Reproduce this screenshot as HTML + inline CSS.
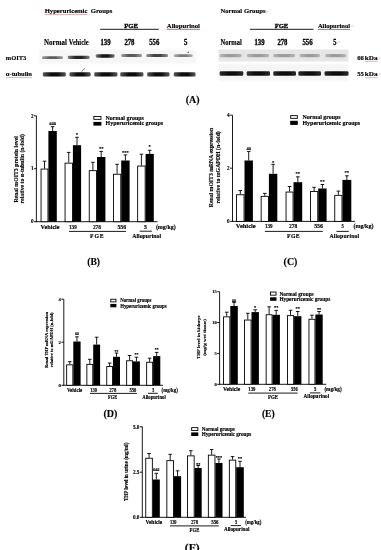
<!DOCTYPE html>
<html><head><meta charset="utf-8"><style>
html,body{margin:0;padding:0;background:#fff;}
body{width:381px;height:550px;overflow:hidden;}
svg{display:block;filter:blur(0.35px);}
text{font-family:"Liberation Serif", serif;stroke:#000;stroke-width:0.14px;}
</style></head><body>
<svg width="381" height="550" viewBox="0 0 381 550">
<defs>
<filter id="bl" x="-20%" y="-100%" width="140%" height="300%"><feGaussianBlur stdDeviation="0.55"/></filter>
<filter id="bl1" x="-10%" y="-30%" width="120%" height="160%"><feGaussianBlur stdDeviation="0.6"/></filter>
<filter id="bl2" x="-10%" y="-30%" width="120%" height="160%"><feGaussianBlur stdDeviation="1.2"/></filter>
</defs>
<rect width="381" height="550" fill="#fff"/>
<line x1="36.40" y1="115.80" x2="36.40" y2="222.15" stroke="#000" stroke-width="0.9"/>
<line x1="34.00" y1="115.80" x2="36.40" y2="115.80" stroke="#000" stroke-width="0.9"/>
<text x="33.50" y="117.57" font-size="5.2" text-anchor="end" font-weight="bold" fill="#000">2</text>
<line x1="34.00" y1="168.70" x2="36.40" y2="168.70" stroke="#000" stroke-width="0.9"/>
<text x="33.50" y="170.47" font-size="5.2" text-anchor="end" font-weight="bold" fill="#000">1</text>
<line x1="34.00" y1="221.70" x2="36.40" y2="221.70" stroke="#000" stroke-width="0.9"/>
<text x="33.50" y="223.47" font-size="5.2" text-anchor="end" font-weight="bold" fill="#000">0</text>
<line x1="35.95" y1="221.70" x2="157.60" y2="221.70" stroke="#000" stroke-width="0.9"/>
<line x1="44.50" y1="168.60" x2="44.50" y2="161.20" stroke="#000" stroke-width="0.9"/>
<line x1="42.70" y1="161.20" x2="46.30" y2="161.20" stroke="#000" stroke-width="0.9"/>
<line x1="52.60" y1="131.00" x2="52.60" y2="126.70" stroke="#000" stroke-width="0.9"/>
<line x1="50.80" y1="126.70" x2="54.40" y2="126.70" stroke="#000" stroke-width="0.9"/>
<rect x="41.05" y="169.05" width="6.90" height="52.65" fill="#fff" stroke="#000" stroke-width="0.9"/>
<rect x="48.40" y="131.00" width="8.40" height="90.70" fill="#000"/>
<text x="52.60" y="124.60" font-size="4.6" text-anchor="middle" font-weight="bold" fill="#000">###</text>
<line x1="68.75" y1="162.70" x2="68.75" y2="152.40" stroke="#000" stroke-width="0.9"/>
<line x1="66.95" y1="152.40" x2="70.55" y2="152.40" stroke="#000" stroke-width="0.9"/>
<line x1="77.00" y1="145.20" x2="77.00" y2="137.30" stroke="#000" stroke-width="0.9"/>
<line x1="75.20" y1="137.30" x2="78.80" y2="137.30" stroke="#000" stroke-width="0.9"/>
<rect x="65.05" y="163.15" width="7.40" height="58.55" fill="#fff" stroke="#000" stroke-width="0.9"/>
<rect x="72.90" y="145.20" width="8.20" height="76.50" fill="#000"/>
<text x="77.00" y="135.70" font-size="4.6" text-anchor="middle" font-weight="bold" fill="#000">*</text>
<line x1="92.90" y1="170.20" x2="92.90" y2="162.30" stroke="#000" stroke-width="0.9"/>
<line x1="91.10" y1="162.30" x2="94.70" y2="162.30" stroke="#000" stroke-width="0.9"/>
<line x1="101.20" y1="157.00" x2="101.20" y2="151.40" stroke="#000" stroke-width="0.9"/>
<line x1="99.40" y1="151.40" x2="103.00" y2="151.40" stroke="#000" stroke-width="0.9"/>
<rect x="89.25" y="170.65" width="7.30" height="51.05" fill="#fff" stroke="#000" stroke-width="0.9"/>
<rect x="97.00" y="157.00" width="8.40" height="64.70" fill="#000"/>
<text x="101.20" y="149.80" font-size="4.6" text-anchor="middle" font-weight="bold" fill="#000">**</text>
<line x1="117.10" y1="173.80" x2="117.10" y2="164.30" stroke="#000" stroke-width="0.9"/>
<line x1="115.30" y1="164.30" x2="118.90" y2="164.30" stroke="#000" stroke-width="0.9"/>
<line x1="125.40" y1="160.50" x2="125.40" y2="154.90" stroke="#000" stroke-width="0.9"/>
<line x1="123.60" y1="154.90" x2="127.20" y2="154.90" stroke="#000" stroke-width="0.9"/>
<rect x="113.45" y="174.25" width="7.30" height="47.45" fill="#fff" stroke="#000" stroke-width="0.9"/>
<rect x="121.20" y="160.50" width="8.40" height="61.20" fill="#000"/>
<text x="125.40" y="154.10" font-size="4.6" text-anchor="middle" font-weight="bold" fill="#000">***</text>
<line x1="141.40" y1="165.60" x2="141.40" y2="154.20" stroke="#000" stroke-width="0.9"/>
<line x1="139.60" y1="154.20" x2="143.20" y2="154.20" stroke="#000" stroke-width="0.9"/>
<line x1="149.70" y1="153.90" x2="149.70" y2="150.30" stroke="#000" stroke-width="0.9"/>
<line x1="147.90" y1="150.30" x2="151.50" y2="150.30" stroke="#000" stroke-width="0.9"/>
<rect x="137.65" y="166.05" width="7.50" height="55.65" fill="#fff" stroke="#000" stroke-width="0.9"/>
<rect x="145.60" y="153.90" width="8.20" height="67.80" fill="#000"/>
<text x="149.70" y="147.80" font-size="4.6" text-anchor="middle" font-weight="bold" fill="#000">*</text>
<text x="40.60" y="228.60" font-size="5.8" text-anchor="start" font-weight="bold" fill="#000" textLength="19.00" lengthAdjust="spacingAndGlyphs">Vehicle</text>
<text x="69.00" y="228.60" font-size="5.8" text-anchor="start" font-weight="bold" fill="#000" textLength="7.70" lengthAdjust="spacingAndGlyphs">139</text>
<text x="92.90" y="228.60" font-size="5.8" text-anchor="start" font-weight="bold" fill="#000" textLength="8.10" lengthAdjust="spacingAndGlyphs">278</text>
<text x="117.50" y="228.60" font-size="5.8" text-anchor="start" font-weight="bold" fill="#000" textLength="8.60" lengthAdjust="spacingAndGlyphs">556</text>
<text x="144.10" y="228.60" font-size="5.8" text-anchor="start" font-weight="bold" fill="#000" textLength="2.90" lengthAdjust="spacingAndGlyphs">5</text>
<text x="155.90" y="228.60" font-size="5.8" text-anchor="start" font-weight="bold" fill="#000" textLength="19.80" lengthAdjust="spacingAndGlyphs">(mg/kg)</text>
<line x1="69.00" y1="231.40" x2="126.10" y2="231.40" stroke="#000" stroke-width="0.9"/>
<text x="90.00" y="238.00" font-size="5.8" text-anchor="start" font-weight="bold" fill="#000" textLength="13.70" lengthAdjust="spacing">FGE</text>
<line x1="139.70" y1="231.20" x2="151.90" y2="231.20" stroke="#000" stroke-width="0.9"/>
<text x="132.30" y="238.00" font-size="5.8" text-anchor="start" font-weight="bold" fill="#000" textLength="28.70" lengthAdjust="spacingAndGlyphs">Allopurinol</text>
<rect x="93.85" y="116.45" width="7.10" height="2.90" fill="#fff" stroke="#000" stroke-width="0.9"/>
<rect x="93.40" y="121.90" width="8.00" height="3.70" fill="#000"/>
<text x="105.60" y="119.60" font-size="5.9" text-anchor="start" font-weight="bold" fill="#000" textLength="38.20" lengthAdjust="spacingAndGlyphs">Normal groups</text>
<text x="105.60" y="125.40" font-size="5.9" text-anchor="start" font-weight="bold" fill="#000" textLength="57.50" lengthAdjust="spacingAndGlyphs">Hyperuricemic groups</text>
<text transform="translate(17.58,169.40) rotate(-90)" x="0" y="0" font-size="5.7" text-anchor="middle" font-weight="bold" textLength="66.40" lengthAdjust="spacingAndGlyphs">Renal mOIT3 protein level</text>
<text transform="translate(24.08,168.70) rotate(-90)" x="0" y="0" font-size="5.7" text-anchor="middle" font-weight="bold" textLength="69.40" lengthAdjust="spacingAndGlyphs">relative to α-tubulin (n-fold)</text>
<text x="87.20" y="264.60" font-size="9.6" text-anchor="start" font-weight="bold" fill="#000" textLength="12.80" lengthAdjust="spacingAndGlyphs">(B)</text>
<line x1="232.50" y1="115.20" x2="232.50" y2="221.85" stroke="#000" stroke-width="0.9"/>
<line x1="230.10" y1="115.20" x2="232.50" y2="115.20" stroke="#000" stroke-width="0.9"/>
<text x="229.60" y="116.97" font-size="5.2" text-anchor="end" font-weight="bold" fill="#000">4</text>
<line x1="230.10" y1="168.20" x2="232.50" y2="168.20" stroke="#000" stroke-width="0.9"/>
<text x="229.60" y="169.97" font-size="5.2" text-anchor="end" font-weight="bold" fill="#000">2</text>
<line x1="230.10" y1="221.40" x2="232.50" y2="221.40" stroke="#000" stroke-width="0.9"/>
<text x="229.60" y="223.17" font-size="5.2" text-anchor="end" font-weight="bold" fill="#000">0</text>
<line x1="232.05" y1="221.40" x2="355.10" y2="221.40" stroke="#000" stroke-width="0.9"/>
<line x1="240.30" y1="194.30" x2="240.30" y2="190.50" stroke="#000" stroke-width="0.9"/>
<line x1="238.50" y1="190.50" x2="242.10" y2="190.50" stroke="#000" stroke-width="0.9"/>
<line x1="248.70" y1="160.50" x2="248.70" y2="151.40" stroke="#000" stroke-width="0.9"/>
<line x1="246.90" y1="151.40" x2="250.50" y2="151.40" stroke="#000" stroke-width="0.9"/>
<rect x="236.55" y="194.75" width="7.50" height="26.65" fill="#fff" stroke="#000" stroke-width="0.9"/>
<rect x="244.50" y="160.50" width="8.40" height="60.90" fill="#000"/>
<text x="248.70" y="149.80" font-size="4.6" text-anchor="middle" font-weight="bold" fill="#000">##</text>
<line x1="264.80" y1="195.90" x2="264.80" y2="193.40" stroke="#000" stroke-width="0.9"/>
<line x1="263.00" y1="193.40" x2="266.60" y2="193.40" stroke="#000" stroke-width="0.9"/>
<line x1="273.10" y1="173.80" x2="273.10" y2="164.30" stroke="#000" stroke-width="0.9"/>
<line x1="271.30" y1="164.30" x2="274.90" y2="164.30" stroke="#000" stroke-width="0.9"/>
<rect x="261.15" y="196.35" width="7.30" height="25.05" fill="#fff" stroke="#000" stroke-width="0.9"/>
<rect x="268.90" y="173.80" width="8.40" height="47.60" fill="#000"/>
<text x="273.10" y="163.50" font-size="4.6" text-anchor="middle" font-weight="bold" fill="#000">*</text>
<line x1="289.55" y1="191.60" x2="289.55" y2="186.50" stroke="#000" stroke-width="0.9"/>
<line x1="287.75" y1="186.50" x2="291.35" y2="186.50" stroke="#000" stroke-width="0.9"/>
<line x1="297.85" y1="182.20" x2="297.85" y2="176.80" stroke="#000" stroke-width="0.9"/>
<line x1="296.05" y1="176.80" x2="299.65" y2="176.80" stroke="#000" stroke-width="0.9"/>
<rect x="286.05" y="192.05" width="7.00" height="29.35" fill="#fff" stroke="#000" stroke-width="0.9"/>
<rect x="293.50" y="182.20" width="8.70" height="39.20" fill="#000"/>
<text x="297.85" y="175.30" font-size="4.6" text-anchor="middle" font-weight="bold" fill="#000">**</text>
<line x1="314.10" y1="191.10" x2="314.10" y2="187.30" stroke="#000" stroke-width="0.9"/>
<line x1="312.30" y1="187.30" x2="315.90" y2="187.30" stroke="#000" stroke-width="0.9"/>
<line x1="322.40" y1="188.50" x2="322.40" y2="184.50" stroke="#000" stroke-width="0.9"/>
<line x1="320.60" y1="184.50" x2="324.20" y2="184.50" stroke="#000" stroke-width="0.9"/>
<rect x="310.45" y="191.55" width="7.30" height="29.85" fill="#fff" stroke="#000" stroke-width="0.9"/>
<rect x="318.20" y="188.50" width="8.40" height="32.90" fill="#000"/>
<text x="322.40" y="183.00" font-size="4.6" text-anchor="middle" font-weight="bold" fill="#000">**</text>
<line x1="338.35" y1="194.90" x2="338.35" y2="191.10" stroke="#000" stroke-width="0.9"/>
<line x1="336.55" y1="191.10" x2="340.15" y2="191.10" stroke="#000" stroke-width="0.9"/>
<line x1="346.85" y1="179.90" x2="346.85" y2="175.80" stroke="#000" stroke-width="0.9"/>
<line x1="345.05" y1="175.80" x2="348.65" y2="175.80" stroke="#000" stroke-width="0.9"/>
<rect x="334.75" y="195.35" width="7.20" height="26.05" fill="#fff" stroke="#000" stroke-width="0.9"/>
<rect x="342.40" y="179.90" width="8.90" height="41.50" fill="#000"/>
<text x="346.85" y="173.60" font-size="4.6" text-anchor="middle" font-weight="bold" fill="#000">**</text>
<text x="235.80" y="228.40" font-size="5.8" text-anchor="start" font-weight="bold" fill="#000" textLength="19.90" lengthAdjust="spacingAndGlyphs">Vehicle</text>
<text x="264.90" y="228.40" font-size="5.8" text-anchor="start" font-weight="bold" fill="#000" textLength="7.70" lengthAdjust="spacingAndGlyphs">139</text>
<text x="289.10" y="228.40" font-size="5.8" text-anchor="start" font-weight="bold" fill="#000" textLength="8.30" lengthAdjust="spacingAndGlyphs">278</text>
<text x="314.20" y="228.40" font-size="5.8" text-anchor="start" font-weight="bold" fill="#000" textLength="8.80" lengthAdjust="spacingAndGlyphs">556</text>
<text x="341.50" y="228.40" font-size="5.8" text-anchor="start" font-weight="bold" fill="#000" textLength="2.30" lengthAdjust="spacingAndGlyphs">5</text>
<text x="353.40" y="228.40" font-size="5.8" text-anchor="start" font-weight="bold" fill="#000" textLength="20.10" lengthAdjust="spacingAndGlyphs">(mg/kg)</text>
<line x1="264.90" y1="231.40" x2="322.80" y2="231.40" stroke="#000" stroke-width="0.9"/>
<text x="287.00" y="238.00" font-size="5.8" text-anchor="start" font-weight="bold" fill="#000" textLength="12.70" lengthAdjust="spacing">FGE</text>
<line x1="336.50" y1="231.40" x2="348.80" y2="231.40" stroke="#000" stroke-width="0.9"/>
<text x="329.40" y="238.00" font-size="5.8" text-anchor="start" font-weight="bold" fill="#000" textLength="29.70" lengthAdjust="spacing">Allopurinol</text>
<rect x="290.65" y="115.65" width="6.70" height="2.70" fill="#fff" stroke="#000" stroke-width="0.9"/>
<rect x="290.20" y="120.80" width="7.60" height="4.10" fill="#000"/>
<text x="302.40" y="118.90" font-size="5.9" text-anchor="start" font-weight="bold" fill="#000" textLength="38.20" lengthAdjust="spacingAndGlyphs">Normal groups</text>
<text x="302.40" y="124.90" font-size="5.9" text-anchor="start" font-weight="bold" fill="#000" textLength="57.80" lengthAdjust="spacingAndGlyphs">Hyperuricemic groups</text>
<text transform="translate(213.48,167.50) rotate(-90)" x="0" y="0" font-size="5.7" text-anchor="middle" font-weight="bold" textLength="79.30" lengthAdjust="spacingAndGlyphs">Renal mOIT3 mRNA expression</text>
<text transform="translate(220.38,167.40) rotate(-90)" x="0" y="0" font-size="5.7" text-anchor="middle" font-weight="bold" textLength="72.40" lengthAdjust="spacingAndGlyphs">relative to mGAPDH (n-fold)</text>
<text x="283.60" y="264.80" font-size="9.6" text-anchor="start" font-weight="bold" fill="#000" textLength="13.80" lengthAdjust="spacingAndGlyphs">(C)</text>
<line x1="63.80" y1="299.20" x2="63.80" y2="385.75" stroke="#000" stroke-width="0.9"/>
<line x1="61.40" y1="299.20" x2="63.80" y2="299.20" stroke="#000" stroke-width="0.9"/>
<text x="60.90" y="300.83" font-size="4.8" text-anchor="end" font-weight="bold" fill="#000">4</text>
<line x1="61.40" y1="342.20" x2="63.80" y2="342.20" stroke="#000" stroke-width="0.9"/>
<text x="60.90" y="343.83" font-size="4.8" text-anchor="end" font-weight="bold" fill="#000">2</text>
<line x1="61.40" y1="385.30" x2="63.80" y2="385.30" stroke="#000" stroke-width="0.9"/>
<text x="60.90" y="386.93" font-size="4.8" text-anchor="end" font-weight="bold" fill="#000">0</text>
<line x1="63.35" y1="385.30" x2="163.00" y2="385.30" stroke="#000" stroke-width="0.9"/>
<line x1="69.75" y1="364.40" x2="69.75" y2="361.70" stroke="#000" stroke-width="0.9"/>
<line x1="67.95" y1="361.70" x2="71.55" y2="361.70" stroke="#000" stroke-width="0.9"/>
<line x1="76.95" y1="341.50" x2="76.95" y2="336.80" stroke="#000" stroke-width="0.9"/>
<line x1="75.15" y1="336.80" x2="78.75" y2="336.80" stroke="#000" stroke-width="0.9"/>
<rect x="66.65" y="364.85" width="6.20" height="20.45" fill="#fff" stroke="#000" stroke-width="0.9"/>
<rect x="73.30" y="341.50" width="7.30" height="43.80" fill="#000"/>
<text x="76.95" y="335.30" font-size="3.8" text-anchor="middle" font-weight="bold" fill="#000">##</text>
<line x1="89.80" y1="363.90" x2="89.80" y2="359.30" stroke="#000" stroke-width="0.9"/>
<line x1="88.00" y1="359.30" x2="91.60" y2="359.30" stroke="#000" stroke-width="0.9"/>
<line x1="96.65" y1="344.60" x2="96.65" y2="337.20" stroke="#000" stroke-width="0.9"/>
<line x1="94.85" y1="337.20" x2="98.45" y2="337.20" stroke="#000" stroke-width="0.9"/>
<rect x="86.85" y="364.35" width="5.90" height="20.95" fill="#fff" stroke="#000" stroke-width="0.9"/>
<rect x="93.20" y="344.60" width="6.90" height="40.70" fill="#000"/>
<line x1="109.65" y1="366.00" x2="109.65" y2="363.00" stroke="#000" stroke-width="0.9"/>
<line x1="107.85" y1="363.00" x2="111.45" y2="363.00" stroke="#000" stroke-width="0.9"/>
<line x1="116.50" y1="356.80" x2="116.50" y2="353.00" stroke="#000" stroke-width="0.9"/>
<line x1="114.70" y1="353.00" x2="118.30" y2="353.00" stroke="#000" stroke-width="0.9"/>
<rect x="106.75" y="366.45" width="5.80" height="18.85" fill="#fff" stroke="#000" stroke-width="0.9"/>
<rect x="113.00" y="356.80" width="7.00" height="28.50" fill="#000"/>
<text x="116.50" y="352.50" font-size="3.8" text-anchor="middle" font-weight="bold" fill="#000">**</text>
<line x1="129.60" y1="360.30" x2="129.60" y2="355.50" stroke="#000" stroke-width="0.9"/>
<line x1="127.80" y1="355.50" x2="131.40" y2="355.50" stroke="#000" stroke-width="0.9"/>
<line x1="136.45" y1="361.40" x2="136.45" y2="357.20" stroke="#000" stroke-width="0.9"/>
<line x1="134.65" y1="357.20" x2="138.25" y2="357.20" stroke="#000" stroke-width="0.9"/>
<rect x="126.65" y="360.75" width="5.90" height="24.55" fill="#fff" stroke="#000" stroke-width="0.9"/>
<rect x="133.00" y="361.40" width="6.90" height="23.90" fill="#000"/>
<text x="136.45" y="356.00" font-size="3.8" text-anchor="middle" font-weight="bold" fill="#000">**</text>
<line x1="149.65" y1="361.80" x2="149.65" y2="358.20" stroke="#000" stroke-width="0.9"/>
<line x1="147.85" y1="358.20" x2="151.45" y2="358.20" stroke="#000" stroke-width="0.9"/>
<line x1="156.70" y1="356.10" x2="156.70" y2="352.40" stroke="#000" stroke-width="0.9"/>
<line x1="154.90" y1="352.40" x2="158.50" y2="352.40" stroke="#000" stroke-width="0.9"/>
<rect x="146.65" y="362.25" width="6.00" height="23.05" fill="#fff" stroke="#000" stroke-width="0.9"/>
<rect x="153.10" y="356.10" width="7.20" height="29.20" fill="#000"/>
<text x="156.70" y="351.20" font-size="3.8" text-anchor="middle" font-weight="bold" fill="#000">**</text>
<text x="67.00" y="391.60" font-size="5.3" text-anchor="start" font-weight="bold" fill="#000" textLength="15.20" lengthAdjust="spacingAndGlyphs">Vehicle</text>
<text x="90.30" y="391.60" font-size="5.3" text-anchor="start" font-weight="bold" fill="#000" textLength="6.70" lengthAdjust="spacingAndGlyphs">139</text>
<text x="109.20" y="391.60" font-size="5.3" text-anchor="start" font-weight="bold" fill="#000" textLength="7.10" lengthAdjust="spacingAndGlyphs">278</text>
<text x="129.60" y="391.60" font-size="5.3" text-anchor="start" font-weight="bold" fill="#000" textLength="6.80" lengthAdjust="spacingAndGlyphs">556</text>
<text x="152.30" y="391.60" font-size="5.3" text-anchor="start" font-weight="bold" fill="#000" textLength="2.00" lengthAdjust="spacingAndGlyphs">5</text>
<text x="161.60" y="391.60" font-size="5.3" text-anchor="start" font-weight="bold" fill="#000" textLength="16.30" lengthAdjust="spacingAndGlyphs">(mg/kg)</text>
<line x1="90.00" y1="393.40" x2="136.90" y2="393.40" stroke="#000" stroke-width="0.9"/>
<text x="108.10" y="399.00" font-size="5.3" text-anchor="start" font-weight="bold" fill="#000" textLength="9.00" lengthAdjust="spacingAndGlyphs">FGE</text>
<line x1="148.00" y1="393.30" x2="157.70" y2="393.30" stroke="#000" stroke-width="0.9"/>
<text x="142.20" y="398.70" font-size="5.3" text-anchor="start" font-weight="bold" fill="#000" textLength="23.60" lengthAdjust="spacingAndGlyphs">Allopurinol</text>
<rect x="110.75" y="299.25" width="5.20" height="2.60" fill="#fff" stroke="#000" stroke-width="0.9"/>
<rect x="110.30" y="303.90" width="6.10" height="3.40" fill="#000"/>
<text x="120.20" y="302.20" font-size="5.2" text-anchor="start" font-weight="bold" fill="#000" textLength="31.20" lengthAdjust="spacingAndGlyphs">Normal groups</text>
<text x="120.20" y="307.50" font-size="5.2" text-anchor="start" font-weight="bold" fill="#000" textLength="46.40" lengthAdjust="spacingAndGlyphs">Hyperuricemic groups</text>
<text transform="translate(47.69,340.00) rotate(-90)" x="0" y="0" font-size="4.5" text-anchor="middle" font-weight="bold" textLength="55.90" lengthAdjust="spacingAndGlyphs">Renal THP mRNA expression</text>
<text transform="translate(52.59,339.90) rotate(-90)" x="0" y="0" font-size="4.5" text-anchor="middle" font-weight="bold" textLength="54.60" lengthAdjust="spacingAndGlyphs">relative to mGAPDH (n-fold)</text>
<text x="103.40" y="416.80" font-size="9.4" text-anchor="start" font-weight="bold" fill="#000" textLength="13.90" lengthAdjust="spacingAndGlyphs">(D)</text>
<line x1="219.60" y1="291.70" x2="219.60" y2="384.75" stroke="#000" stroke-width="0.9"/>
<line x1="217.20" y1="291.70" x2="219.60" y2="291.70" stroke="#000" stroke-width="0.9"/>
<text x="216.70" y="293.23" font-size="4.5" text-anchor="end" font-weight="bold" fill="#000">15</text>
<line x1="217.20" y1="322.50" x2="219.60" y2="322.50" stroke="#000" stroke-width="0.9"/>
<text x="216.70" y="324.03" font-size="4.5" text-anchor="end" font-weight="bold" fill="#000">10</text>
<line x1="217.20" y1="353.40" x2="219.60" y2="353.40" stroke="#000" stroke-width="0.9"/>
<text x="216.70" y="354.93" font-size="4.5" text-anchor="end" font-weight="bold" fill="#000">5</text>
<line x1="217.20" y1="384.30" x2="219.60" y2="384.30" stroke="#000" stroke-width="0.9"/>
<text x="216.70" y="385.83" font-size="4.5" text-anchor="end" font-weight="bold" fill="#000">0</text>
<line x1="219.15" y1="384.30" x2="326.30" y2="384.30" stroke="#000" stroke-width="0.9"/>
<line x1="226.70" y1="316.40" x2="226.70" y2="312.20" stroke="#000" stroke-width="0.9"/>
<line x1="224.90" y1="312.20" x2="228.50" y2="312.20" stroke="#000" stroke-width="0.9"/>
<line x1="234.05" y1="306.00" x2="234.05" y2="302.40" stroke="#000" stroke-width="0.9"/>
<line x1="232.25" y1="302.40" x2="235.85" y2="302.40" stroke="#000" stroke-width="0.9"/>
<rect x="223.55" y="316.85" width="6.30" height="67.45" fill="#fff" stroke="#000" stroke-width="0.9"/>
<rect x="230.30" y="306.00" width="7.50" height="78.30" fill="#000"/>
<text x="234.05" y="301.60" font-size="4.3" text-anchor="middle" font-weight="bold" fill="#000">##</text>
<line x1="247.80" y1="319.60" x2="247.80" y2="313.30" stroke="#000" stroke-width="0.9"/>
<line x1="246.00" y1="313.30" x2="249.60" y2="313.30" stroke="#000" stroke-width="0.9"/>
<line x1="255.20" y1="312.10" x2="255.20" y2="309.80" stroke="#000" stroke-width="0.9"/>
<line x1="253.40" y1="309.80" x2="257.00" y2="309.80" stroke="#000" stroke-width="0.9"/>
<rect x="244.55" y="320.05" width="6.50" height="64.25" fill="#fff" stroke="#000" stroke-width="0.9"/>
<rect x="251.50" y="312.10" width="7.40" height="72.20" fill="#000"/>
<text x="255.20" y="308.60" font-size="4.3" text-anchor="middle" font-weight="bold" fill="#000">*</text>
<line x1="269.10" y1="314.30" x2="269.10" y2="306.80" stroke="#000" stroke-width="0.9"/>
<line x1="267.30" y1="306.80" x2="270.90" y2="306.80" stroke="#000" stroke-width="0.9"/>
<line x1="276.20" y1="314.80" x2="276.20" y2="310.40" stroke="#000" stroke-width="0.9"/>
<line x1="274.40" y1="310.40" x2="278.00" y2="310.40" stroke="#000" stroke-width="0.9"/>
<rect x="266.15" y="314.75" width="5.90" height="69.55" fill="#fff" stroke="#000" stroke-width="0.9"/>
<rect x="272.50" y="314.80" width="7.40" height="69.50" fill="#000"/>
<text x="276.20" y="308.60" font-size="4.3" text-anchor="middle" font-weight="bold" fill="#000">**</text>
<line x1="290.55" y1="315.20" x2="290.55" y2="310.30" stroke="#000" stroke-width="0.9"/>
<line x1="288.75" y1="310.30" x2="292.35" y2="310.30" stroke="#000" stroke-width="0.9"/>
<line x1="297.75" y1="316.20" x2="297.75" y2="311.50" stroke="#000" stroke-width="0.9"/>
<line x1="295.95" y1="311.50" x2="299.55" y2="311.50" stroke="#000" stroke-width="0.9"/>
<rect x="287.45" y="315.65" width="6.20" height="68.65" fill="#fff" stroke="#000" stroke-width="0.9"/>
<rect x="294.10" y="316.20" width="7.30" height="68.10" fill="#000"/>
<text x="297.75" y="310.00" font-size="4.3" text-anchor="middle" font-weight="bold" fill="#000">**</text>
<line x1="311.95" y1="318.80" x2="311.95" y2="315.20" stroke="#000" stroke-width="0.9"/>
<line x1="310.15" y1="315.20" x2="313.75" y2="315.20" stroke="#000" stroke-width="0.9"/>
<line x1="319.05" y1="314.50" x2="319.05" y2="311.50" stroke="#000" stroke-width="0.9"/>
<line x1="317.25" y1="311.50" x2="320.85" y2="311.50" stroke="#000" stroke-width="0.9"/>
<rect x="308.95" y="319.25" width="6.00" height="65.05" fill="#fff" stroke="#000" stroke-width="0.9"/>
<rect x="315.40" y="314.50" width="7.30" height="69.80" fill="#000"/>
<text x="319.05" y="310.60" font-size="4.3" text-anchor="middle" font-weight="bold" fill="#000">**</text>
<text x="223.10" y="390.60" font-size="5.2" text-anchor="start" font-weight="bold" fill="#000" textLength="17.10" lengthAdjust="spacingAndGlyphs">Vehicle</text>
<text x="248.30" y="390.60" font-size="5.2" text-anchor="start" font-weight="bold" fill="#000" textLength="7.10" lengthAdjust="spacingAndGlyphs">139</text>
<text x="268.80" y="390.60" font-size="5.2" text-anchor="start" font-weight="bold" fill="#000" textLength="7.10" lengthAdjust="spacingAndGlyphs">278</text>
<text x="291.00" y="390.60" font-size="5.2" text-anchor="start" font-weight="bold" fill="#000" textLength="6.60" lengthAdjust="spacingAndGlyphs">556</text>
<text x="314.10" y="390.60" font-size="5.2" text-anchor="start" font-weight="bold" fill="#000" textLength="2.40" lengthAdjust="spacingAndGlyphs">5</text>
<text x="324.40" y="390.60" font-size="5.2" text-anchor="start" font-weight="bold" fill="#000" textLength="17.30" lengthAdjust="spacingAndGlyphs">(mg/kg)</text>
<line x1="248.30" y1="393.10" x2="297.60" y2="393.10" stroke="#000" stroke-width="0.9"/>
<text x="268.00" y="398.80" font-size="5.2" text-anchor="start" font-weight="bold" fill="#000" textLength="10.00" lengthAdjust="spacingAndGlyphs">FGE</text>
<line x1="309.90" y1="392.90" x2="320.40" y2="392.90" stroke="#000" stroke-width="0.9"/>
<text x="303.60" y="398.40" font-size="5.2" text-anchor="start" font-weight="bold" fill="#000" textLength="25.50" lengthAdjust="spacingAndGlyphs">Allopurinol</text>
<rect x="270.55" y="292.05" width="5.50" height="3.10" fill="#fff" stroke="#000" stroke-width="0.9"/>
<rect x="270.10" y="297.30" width="6.40" height="3.50" fill="#000"/>
<text x="279.40" y="295.50" font-size="5.3" text-anchor="start" font-weight="bold" fill="#000" textLength="34.30" lengthAdjust="spacingAndGlyphs">Normal groups</text>
<text x="279.40" y="300.70" font-size="5.3" text-anchor="start" font-weight="bold" fill="#000" textLength="50.80" lengthAdjust="spacingAndGlyphs">Hyperuricemic groups</text>
<text transform="translate(199.75,337.40) rotate(-90)" x="0" y="0" font-size="5.0" text-anchor="middle" font-weight="bold" textLength="43.40" lengthAdjust="spacingAndGlyphs">THP level in kidneys</text>
<text transform="translate(206.15,337.40) rotate(-90)" x="0" y="0" font-size="5.0" text-anchor="middle" font-weight="bold" textLength="36.80" lengthAdjust="spacingAndGlyphs">(mg/g wet tissue)</text>
<text x="261.90" y="417.00" font-size="9.4" text-anchor="start" font-weight="bold" fill="#000" textLength="12.90" lengthAdjust="spacingAndGlyphs">(E)</text>
<line x1="142.30" y1="426.60" x2="142.30" y2="517.75" stroke="#000" stroke-width="0.9"/>
<line x1="139.90" y1="426.80" x2="142.30" y2="426.80" stroke="#000" stroke-width="0.9"/>
<text x="139.40" y="428.57" font-size="5.2" text-anchor="end" font-weight="bold" fill="#000">5.0</text>
<line x1="139.90" y1="472.20" x2="142.30" y2="472.20" stroke="#000" stroke-width="0.9"/>
<text x="139.40" y="473.97" font-size="5.2" text-anchor="end" font-weight="bold" fill="#000">2.5</text>
<line x1="139.90" y1="517.30" x2="142.30" y2="517.30" stroke="#000" stroke-width="0.9"/>
<text x="139.40" y="519.07" font-size="5.2" text-anchor="end" font-weight="bold" fill="#000">0.0</text>
<line x1="141.85" y1="517.30" x2="246.10" y2="517.30" stroke="#000" stroke-width="0.9"/>
<line x1="149.05" y1="457.80" x2="149.05" y2="453.50" stroke="#000" stroke-width="0.9"/>
<line x1="147.25" y1="453.50" x2="150.85" y2="453.50" stroke="#000" stroke-width="0.9"/>
<line x1="156.30" y1="479.50" x2="156.30" y2="473.30" stroke="#000" stroke-width="0.9"/>
<line x1="154.50" y1="473.30" x2="158.10" y2="473.30" stroke="#000" stroke-width="0.9"/>
<rect x="145.75" y="458.25" width="6.60" height="59.05" fill="#fff" stroke="#000" stroke-width="0.9"/>
<rect x="152.80" y="479.50" width="7.00" height="37.80" fill="#000"/>
<text x="156.30" y="471.10" font-size="4.3" text-anchor="middle" font-weight="bold" fill="#000">###</text>
<line x1="170.20" y1="460.20" x2="170.20" y2="454.30" stroke="#000" stroke-width="0.9"/>
<line x1="168.40" y1="454.30" x2="172.00" y2="454.30" stroke="#000" stroke-width="0.9"/>
<line x1="177.55" y1="476.20" x2="177.55" y2="470.80" stroke="#000" stroke-width="0.9"/>
<line x1="175.75" y1="470.80" x2="179.35" y2="470.80" stroke="#000" stroke-width="0.9"/>
<rect x="166.85" y="460.65" width="6.70" height="56.65" fill="#fff" stroke="#000" stroke-width="0.9"/>
<rect x="174.00" y="476.20" width="7.10" height="41.10" fill="#000"/>
<line x1="190.85" y1="455.40" x2="190.85" y2="450.70" stroke="#000" stroke-width="0.9"/>
<line x1="189.05" y1="450.70" x2="192.65" y2="450.70" stroke="#000" stroke-width="0.9"/>
<line x1="198.15" y1="468.00" x2="198.15" y2="465.50" stroke="#000" stroke-width="0.9"/>
<line x1="196.35" y1="465.50" x2="199.95" y2="465.50" stroke="#000" stroke-width="0.9"/>
<rect x="187.55" y="455.85" width="6.60" height="61.45" fill="#fff" stroke="#000" stroke-width="0.9"/>
<rect x="194.60" y="468.00" width="7.10" height="49.30" fill="#000"/>
<text x="198.15" y="465.70" font-size="4.3" text-anchor="middle" font-weight="bold" fill="#000">**</text>
<line x1="211.65" y1="454.70" x2="211.65" y2="449.50" stroke="#000" stroke-width="0.9"/>
<line x1="209.85" y1="449.50" x2="213.45" y2="449.50" stroke="#000" stroke-width="0.9"/>
<line x1="218.95" y1="463.00" x2="218.95" y2="459.00" stroke="#000" stroke-width="0.9"/>
<line x1="217.15" y1="459.00" x2="220.75" y2="459.00" stroke="#000" stroke-width="0.9"/>
<rect x="208.35" y="455.15" width="6.60" height="62.15" fill="#fff" stroke="#000" stroke-width="0.9"/>
<rect x="215.40" y="463.00" width="7.10" height="54.30" fill="#000"/>
<text x="218.95" y="458.60" font-size="4.3" text-anchor="middle" font-weight="bold" fill="#000">***</text>
<line x1="232.55" y1="459.70" x2="232.55" y2="456.60" stroke="#000" stroke-width="0.9"/>
<line x1="230.75" y1="456.60" x2="234.35" y2="456.60" stroke="#000" stroke-width="0.9"/>
<line x1="240.00" y1="467.20" x2="240.00" y2="461.30" stroke="#000" stroke-width="0.9"/>
<line x1="238.20" y1="461.30" x2="241.80" y2="461.30" stroke="#000" stroke-width="0.9"/>
<rect x="229.35" y="460.15" width="6.40" height="57.15" fill="#fff" stroke="#000" stroke-width="0.9"/>
<rect x="236.20" y="467.20" width="7.60" height="50.10" fill="#000"/>
<text x="240.00" y="459.80" font-size="4.3" text-anchor="middle" font-weight="bold" fill="#000">**</text>
<text x="145.50" y="524.00" font-size="5.5" text-anchor="start" font-weight="bold" fill="#000" textLength="16.80" lengthAdjust="spacingAndGlyphs">Vehicle</text>
<text x="169.90" y="524.00" font-size="5.5" text-anchor="start" font-weight="bold" fill="#000" textLength="6.70" lengthAdjust="spacingAndGlyphs">139</text>
<text x="190.90" y="524.00" font-size="5.5" text-anchor="start" font-weight="bold" fill="#000" textLength="7.10" lengthAdjust="spacingAndGlyphs">278</text>
<text x="211.20" y="524.00" font-size="5.5" text-anchor="start" font-weight="bold" fill="#000" textLength="7.40" lengthAdjust="spacingAndGlyphs">556</text>
<text x="235.00" y="524.00" font-size="5.5" text-anchor="start" font-weight="bold" fill="#000" textLength="2.20" lengthAdjust="spacingAndGlyphs">5</text>
<text x="245.20" y="524.00" font-size="5.5" text-anchor="start" font-weight="bold" fill="#000" textLength="16.20" lengthAdjust="spacingAndGlyphs">(mg/kg)</text>
<line x1="169.90" y1="525.90" x2="218.80" y2="525.90" stroke="#000" stroke-width="0.9"/>
<text x="189.60" y="531.60" font-size="5.5" text-anchor="start" font-weight="bold" fill="#000" textLength="9.70" lengthAdjust="spacingAndGlyphs">FGE</text>
<line x1="230.70" y1="525.60" x2="240.90" y2="525.60" stroke="#000" stroke-width="0.9"/>
<text x="223.90" y="531.00" font-size="5.5" text-anchor="start" font-weight="bold" fill="#000" textLength="25.60" lengthAdjust="spacingAndGlyphs">Allopurinol</text>
<rect x="191.65" y="427.65" width="6.20" height="2.80" fill="#fff" stroke="#000" stroke-width="0.9"/>
<rect x="191.20" y="432.40" width="7.10" height="3.60" fill="#000"/>
<text x="201.70" y="431.00" font-size="5.1" text-anchor="start" font-weight="bold" fill="#000" textLength="33.10" lengthAdjust="spacingAndGlyphs">Normal groups</text>
<text x="201.70" y="436.40" font-size="5.1" text-anchor="start" font-weight="bold" fill="#000" textLength="49.60" lengthAdjust="spacingAndGlyphs">Hyperuricemic groups</text>
<text transform="translate(128.18,471.80) rotate(-90)" x="0" y="0" font-size="5.1" text-anchor="middle" font-weight="bold" textLength="58.50" lengthAdjust="spacingAndGlyphs">THP level in urine (mg/ml)</text>
<text x="184.80" y="551.30" font-size="9.6" text-anchor="start" font-weight="bold" fill="#000" textLength="14.70" lengthAdjust="spacingAndGlyphs">(F)</text>
<rect x="39" y="49.5" width="157" height="14" fill="#f6f6f6" filter="url(#bl2)"/>
<rect x="218.5" y="49.5" width="130" height="12" fill="#e6e6e6" filter="url(#bl1)"/>
<rect x="218.5" y="64" width="130" height="17" fill="#f5f5f5" filter="url(#bl2)"/>
<linearGradient id="g1" x1="0" y1="0" x2="1" y2="0"><stop offset="0" stop-color="#5c5c5c" stop-opacity="0.55"/><stop offset="0.35" stop-color="#5c5c5c"/><stop offset="0.65" stop-color="#5c5c5c"/><stop offset="1" stop-color="#5c5c5c" stop-opacity="0.55"/></linearGradient>
<rect x="42.00" y="56.15" width="21.00" height="2.90" rx="1.40" ry="0.87" fill="url(#g1)" opacity="1.0" filter="url(#bl)"/>
<linearGradient id="g2" x1="0" y1="0" x2="1" y2="0"><stop offset="0" stop-color="#222" stop-opacity="0.55"/><stop offset="0.35" stop-color="#222"/><stop offset="0.65" stop-color="#222"/><stop offset="1" stop-color="#222" stop-opacity="0.55"/></linearGradient>
<rect x="67.80" y="55.65" width="21.80" height="3.30" rx="1.40" ry="0.99" fill="url(#g2)" opacity="1.0" filter="url(#bl)"/>
<linearGradient id="g3" x1="0" y1="0" x2="1" y2="0"><stop offset="0" stop-color="#141414" stop-opacity="0.55"/><stop offset="0.35" stop-color="#141414"/><stop offset="0.65" stop-color="#141414"/><stop offset="1" stop-color="#141414" stop-opacity="0.55"/></linearGradient>
<rect x="95.80" y="54.15" width="18.80" height="3.50" rx="1.40" ry="1.05" fill="url(#g3)" opacity="1.0" filter="url(#bl)"/>
<linearGradient id="g4" x1="0" y1="0" x2="1" y2="0"><stop offset="0" stop-color="#5a5a5a" stop-opacity="0.55"/><stop offset="0.35" stop-color="#5a5a5a"/><stop offset="0.65" stop-color="#5a5a5a"/><stop offset="1" stop-color="#5a5a5a" stop-opacity="0.55"/></linearGradient>
<rect x="121.20" y="54.00" width="20.80" height="3.00" rx="1.40" ry="0.90" fill="url(#g4)" opacity="1.0" filter="url(#bl)"/>
<linearGradient id="g5" x1="0" y1="0" x2="1" y2="0"><stop offset="0" stop-color="#444" stop-opacity="0.55"/><stop offset="0.35" stop-color="#444"/><stop offset="0.65" stop-color="#444"/><stop offset="1" stop-color="#444" stop-opacity="0.55"/></linearGradient>
<rect x="146.30" y="53.90" width="21.70" height="3.20" rx="1.40" ry="0.96" fill="url(#g5)" opacity="1.0" filter="url(#bl)"/>
<linearGradient id="g6" x1="0" y1="0" x2="1" y2="0"><stop offset="0" stop-color="#7a7a7a" stop-opacity="0.55"/><stop offset="0.35" stop-color="#7a7a7a"/><stop offset="0.65" stop-color="#7a7a7a"/><stop offset="1" stop-color="#7a7a7a" stop-opacity="0.55"/></linearGradient>
<rect x="173.80" y="54.30" width="18.80" height="2.80" rx="1.40" ry="0.84" fill="url(#g6)" opacity="1.0" filter="url(#bl)"/>
<circle cx="188.2" cy="52.3" r="0.7" fill="#333"/>
<path d="M81.8,71.6 L83.2,69.6 L85.2,68.4" stroke="#222" stroke-width="0.6" fill="none"/>
<linearGradient id="g7" x1="0" y1="0" x2="1" y2="0"><stop offset="0" stop-color="#0c0c0c" stop-opacity="0.70"/><stop offset="0.35" stop-color="#0c0c0c"/><stop offset="0.65" stop-color="#0c0c0c"/><stop offset="1" stop-color="#0c0c0c" stop-opacity="0.70"/></linearGradient>
<rect x="42.90" y="72.35" width="22.90" height="4.10" rx="1.40" ry="1.23" fill="url(#g7)" opacity="1.0" filter="url(#bl)"/>
<linearGradient id="g8" x1="0" y1="0" x2="1" y2="0"><stop offset="0" stop-color="#0c0c0c" stop-opacity="0.70"/><stop offset="0.35" stop-color="#0c0c0c"/><stop offset="0.65" stop-color="#0c0c0c"/><stop offset="1" stop-color="#0c0c0c" stop-opacity="0.70"/></linearGradient>
<rect x="69.50" y="72.35" width="21.10" height="4.10" rx="1.40" ry="1.23" fill="url(#g8)" opacity="1.0" filter="url(#bl)"/>
<linearGradient id="g9" x1="0" y1="0" x2="1" y2="0"><stop offset="0" stop-color="#0c0c0c" stop-opacity="0.70"/><stop offset="0.35" stop-color="#0c0c0c"/><stop offset="0.65" stop-color="#0c0c0c"/><stop offset="1" stop-color="#0c0c0c" stop-opacity="0.70"/></linearGradient>
<rect x="94.30" y="72.35" width="23.10" height="4.10" rx="1.40" ry="1.23" fill="url(#g9)" opacity="1.0" filter="url(#bl)"/>
<linearGradient id="g10" x1="0" y1="0" x2="1" y2="0"><stop offset="0" stop-color="#0c0c0c" stop-opacity="0.70"/><stop offset="0.35" stop-color="#0c0c0c"/><stop offset="0.65" stop-color="#0c0c0c"/><stop offset="1" stop-color="#0c0c0c" stop-opacity="0.70"/></linearGradient>
<rect x="120.30" y="72.35" width="23.10" height="4.10" rx="1.40" ry="1.23" fill="url(#g10)" opacity="1.0" filter="url(#bl)"/>
<linearGradient id="g11" x1="0" y1="0" x2="1" y2="0"><stop offset="0" stop-color="#0c0c0c" stop-opacity="0.70"/><stop offset="0.35" stop-color="#0c0c0c"/><stop offset="0.65" stop-color="#0c0c0c"/><stop offset="1" stop-color="#0c0c0c" stop-opacity="0.70"/></linearGradient>
<rect x="147.20" y="72.35" width="22.30" height="4.10" rx="1.40" ry="1.23" fill="url(#g11)" opacity="1.0" filter="url(#bl)"/>
<linearGradient id="g12" x1="0" y1="0" x2="1" y2="0"><stop offset="0" stop-color="#0c0c0c" stop-opacity="0.70"/><stop offset="0.35" stop-color="#0c0c0c"/><stop offset="0.65" stop-color="#0c0c0c"/><stop offset="1" stop-color="#0c0c0c" stop-opacity="0.70"/></linearGradient>
<rect x="173.80" y="72.35" width="21.70" height="4.10" rx="1.40" ry="1.23" fill="url(#g12)" opacity="1.0" filter="url(#bl)"/>
<linearGradient id="g13" x1="0" y1="0" x2="1" y2="0"><stop offset="0" stop-color="#9c9c9c" stop-opacity="0.65"/><stop offset="0.35" stop-color="#9c9c9c"/><stop offset="0.65" stop-color="#9c9c9c"/><stop offset="1" stop-color="#9c9c9c" stop-opacity="0.65"/></linearGradient>
<rect x="219.70" y="53.90" width="22.00" height="3.40" rx="1.40" ry="1.02" fill="url(#g13)" opacity="1.0" filter="url(#bl1)"/>
<linearGradient id="g14" x1="0" y1="0" x2="1" y2="0"><stop offset="0" stop-color="#9c9c9c" stop-opacity="0.65"/><stop offset="0.35" stop-color="#9c9c9c"/><stop offset="0.65" stop-color="#9c9c9c"/><stop offset="1" stop-color="#9c9c9c" stop-opacity="0.65"/></linearGradient>
<rect x="247.00" y="53.90" width="22.00" height="3.40" rx="1.40" ry="1.02" fill="url(#g14)" opacity="1.0" filter="url(#bl1)"/>
<linearGradient id="g15" x1="0" y1="0" x2="1" y2="0"><stop offset="0" stop-color="#9c9c9c" stop-opacity="0.65"/><stop offset="0.35" stop-color="#9c9c9c"/><stop offset="0.65" stop-color="#9c9c9c"/><stop offset="1" stop-color="#9c9c9c" stop-opacity="0.65"/></linearGradient>
<rect x="273.30" y="53.90" width="21.70" height="3.40" rx="1.40" ry="1.02" fill="url(#g15)" opacity="1.0" filter="url(#bl1)"/>
<linearGradient id="g16" x1="0" y1="0" x2="1" y2="0"><stop offset="0" stop-color="#9c9c9c" stop-opacity="0.65"/><stop offset="0.35" stop-color="#9c9c9c"/><stop offset="0.65" stop-color="#9c9c9c"/><stop offset="1" stop-color="#9c9c9c" stop-opacity="0.65"/></linearGradient>
<rect x="299.60" y="53.90" width="20.30" height="3.40" rx="1.40" ry="1.02" fill="url(#g16)" opacity="1.0" filter="url(#bl1)"/>
<linearGradient id="g17" x1="0" y1="0" x2="1" y2="0"><stop offset="0" stop-color="#9c9c9c" stop-opacity="0.65"/><stop offset="0.35" stop-color="#9c9c9c"/><stop offset="0.65" stop-color="#9c9c9c"/><stop offset="1" stop-color="#9c9c9c" stop-opacity="0.65"/></linearGradient>
<rect x="325.30" y="53.90" width="20.80" height="3.40" rx="1.40" ry="1.02" fill="url(#g17)" opacity="1.0" filter="url(#bl1)"/>
<linearGradient id="g18" x1="0" y1="0" x2="1" y2="0"><stop offset="0" stop-color="#0c0c0c" stop-opacity="0.88"/><stop offset="0.35" stop-color="#0c0c0c"/><stop offset="0.65" stop-color="#0c0c0c"/><stop offset="1" stop-color="#0c0c0c" stop-opacity="0.88"/></linearGradient>
<rect x="219.70" y="71.25" width="23.60" height="4.50" rx="1.40" ry="1.35" fill="url(#g18)" opacity="1.0" filter="url(#bl)"/>
<linearGradient id="g19" x1="0" y1="0" x2="1" y2="0"><stop offset="0" stop-color="#0c0c0c" stop-opacity="0.88"/><stop offset="0.35" stop-color="#0c0c0c"/><stop offset="0.65" stop-color="#0c0c0c"/><stop offset="1" stop-color="#0c0c0c" stop-opacity="0.88"/></linearGradient>
<rect x="246.70" y="71.25" width="23.30" height="4.50" rx="1.40" ry="1.35" fill="url(#g19)" opacity="1.0" filter="url(#bl)"/>
<linearGradient id="g20" x1="0" y1="0" x2="1" y2="0"><stop offset="0" stop-color="#0c0c0c" stop-opacity="0.88"/><stop offset="0.35" stop-color="#0c0c0c"/><stop offset="0.65" stop-color="#0c0c0c"/><stop offset="1" stop-color="#0c0c0c" stop-opacity="0.88"/></linearGradient>
<rect x="273.30" y="71.25" width="22.70" height="4.50" rx="1.40" ry="1.35" fill="url(#g20)" opacity="1.0" filter="url(#bl)"/>
<linearGradient id="g21" x1="0" y1="0" x2="1" y2="0"><stop offset="0" stop-color="#0c0c0c" stop-opacity="0.88"/><stop offset="0.35" stop-color="#0c0c0c"/><stop offset="0.65" stop-color="#0c0c0c"/><stop offset="1" stop-color="#0c0c0c" stop-opacity="0.88"/></linearGradient>
<rect x="298.40" y="71.25" width="22.60" height="4.50" rx="1.40" ry="1.35" fill="url(#g21)" opacity="1.0" filter="url(#bl)"/>
<linearGradient id="g22" x1="0" y1="0" x2="1" y2="0"><stop offset="0" stop-color="#0c0c0c" stop-opacity="0.88"/><stop offset="0.35" stop-color="#0c0c0c"/><stop offset="0.65" stop-color="#0c0c0c"/><stop offset="1" stop-color="#0c0c0c" stop-opacity="0.88"/></linearGradient>
<rect x="324.60" y="71.25" width="23.90" height="4.50" rx="1.40" ry="1.35" fill="url(#g22)" opacity="1.0" filter="url(#bl)"/>
<text x="44.70" y="13.10" font-size="6.6" text-anchor="start" font-weight="bold" fill="#000" textLength="42.70" lengthAdjust="spacingAndGlyphs">Hyperuricemic</text>
<text x="90.70" y="13.10" font-size="6.6" text-anchor="start" font-weight="bold" fill="#000" textLength="21.60" lengthAdjust="spacingAndGlyphs">Groups</text>
<text x="124.20" y="28.30" font-size="6.9" text-anchor="start" font-weight="bold" fill="#000" textLength="13.90" lengthAdjust="spacingAndGlyphs" style="stroke-width:0.3px">FGE</text>
<line x1="100.20" y1="29.30" x2="158.80" y2="29.30" stroke="#000" stroke-width="0.9"/>
<text x="166.80" y="28.30" font-size="6.8" text-anchor="start" font-weight="bold" fill="#000" textLength="33.20" lengthAdjust="spacingAndGlyphs">Allopurinol</text>
<text x="44.10" y="44.50" font-size="7.2" text-anchor="start" font-weight="bold" fill="#000" textLength="22.80" lengthAdjust="spacingAndGlyphs">Normal</text>
<text x="68.80" y="44.50" font-size="7.2" text-anchor="start" font-weight="bold" fill="#000" textLength="19.90" lengthAdjust="spacingAndGlyphs">Vehicle</text>
<text x="100.50" y="44.60" font-size="7.3" text-anchor="start" font-weight="bold" fill="#000" textLength="10.10" lengthAdjust="spacingAndGlyphs" style="stroke-width:0.3px">139</text>
<text x="124.40" y="44.60" font-size="7.3" text-anchor="start" font-weight="bold" fill="#000" textLength="10.10" lengthAdjust="spacingAndGlyphs" style="stroke-width:0.3px">278</text>
<text x="149.20" y="44.60" font-size="7.3" text-anchor="start" font-weight="bold" fill="#000" textLength="10.10" lengthAdjust="spacingAndGlyphs" style="stroke-width:0.3px">556</text>
<text x="183.90" y="44.60" font-size="7.3" text-anchor="start" font-weight="bold" fill="#000" textLength="3.40" lengthAdjust="spacingAndGlyphs" style="stroke-width:0.3px">5</text>
<text x="5.80" y="59.60" font-size="6.6" text-anchor="start" font-weight="bold" fill="#000" textLength="20.40" lengthAdjust="spacingAndGlyphs">mOIT3</text>
<text x="5.80" y="76.20" font-size="6.6" text-anchor="start" font-weight="bold" fill="#000" textLength="26.20" lengthAdjust="spacingAndGlyphs">α-tubulin</text>
<text x="220.50" y="13.20" font-size="6.6" text-anchor="start" font-weight="bold" fill="#000" textLength="21.50" lengthAdjust="spacingAndGlyphs">Normal</text>
<text x="244.00" y="13.20" font-size="6.6" text-anchor="start" font-weight="bold" fill="#000" textLength="21.50" lengthAdjust="spacingAndGlyphs">Groups</text>
<text x="274.70" y="28.30" font-size="6.9" text-anchor="start" font-weight="bold" fill="#000" textLength="13.60" lengthAdjust="spacingAndGlyphs" style="stroke-width:0.3px">FGE</text>
<line x1="250.00" y1="29.30" x2="313.50" y2="29.30" stroke="#000" stroke-width="0.9"/>
<text x="317.90" y="28.30" font-size="6.6" text-anchor="start" font-weight="bold" fill="#000" textLength="32.10" lengthAdjust="spacingAndGlyphs">Allopurinol</text>
<text x="220.50" y="44.50" font-size="7.2" text-anchor="start" font-weight="bold" fill="#000" textLength="21.30" lengthAdjust="spacingAndGlyphs">Normal</text>
<text x="254.50" y="44.60" font-size="7.3" text-anchor="start" font-weight="bold" fill="#000" textLength="10.00" lengthAdjust="spacingAndGlyphs" style="stroke-width:0.3px">139</text>
<text x="277.40" y="44.60" font-size="7.3" text-anchor="start" font-weight="bold" fill="#000" textLength="10.00" lengthAdjust="spacingAndGlyphs" style="stroke-width:0.3px">278</text>
<text x="302.40" y="44.60" font-size="7.3" text-anchor="start" font-weight="bold" fill="#000" textLength="10.40" lengthAdjust="spacingAndGlyphs" style="stroke-width:0.3px">556</text>
<text x="333.30" y="44.60" font-size="7.3" text-anchor="start" font-weight="bold" fill="#000" textLength="3.20" lengthAdjust="spacingAndGlyphs" style="stroke-width:0.3px">5</text>
<text x="357.30" y="59.70" font-size="6.6" text-anchor="start" font-weight="bold" fill="#000" textLength="6.60" lengthAdjust="spacingAndGlyphs">66</text>
<text x="364.80" y="59.70" font-size="6.6" text-anchor="start" font-weight="bold" fill="#000" textLength="12.80" lengthAdjust="spacingAndGlyphs">kDa</text>
<text x="357.30" y="76.10" font-size="6.6" text-anchor="start" font-weight="bold" fill="#000" textLength="6.60" lengthAdjust="spacingAndGlyphs">55</text>
<text x="364.80" y="76.10" font-size="6.6" text-anchor="start" font-weight="bold" fill="#000" textLength="12.80" lengthAdjust="spacingAndGlyphs">kDa</text>
<line x1="266.30" y1="12.00" x2="268.50" y2="11.00" stroke="#999" stroke-width="0.5"/>
<line x1="351.30" y1="26.50" x2="353.50" y2="25.50" stroke="#999" stroke-width="0.5"/>
<line x1="337.60" y1="42.50" x2="339.80" y2="41.50" stroke="#999" stroke-width="0.5"/>
<line x1="378.30" y1="58.50" x2="380.50" y2="57.50" stroke="#999" stroke-width="0.5"/>
<line x1="378.30" y1="74.50" x2="380.50" y2="73.50" stroke="#999" stroke-width="0.5"/>
<line x1="44.70" y1="14.50" x2="87.40" y2="14.50" stroke="#d9a0a8" stroke-width="0.8"/>
<line x1="5.80" y1="77.60" x2="32.00" y2="77.60" stroke="#d9a0a8" stroke-width="0.8"/>
<line x1="166.80" y1="29.30" x2="200.00" y2="29.30" stroke="#9a4a52" stroke-width="0.8"/>
<line x1="317.90" y1="29.40" x2="350.00" y2="29.40" stroke="#9a4a52" stroke-width="0.8"/>
<line x1="364.80" y1="61.30" x2="377.60" y2="61.30" stroke="#d9a0a8" stroke-width="0.8"/>
<line x1="364.80" y1="77.70" x2="377.60" y2="77.70" stroke="#d9a0a8" stroke-width="0.8"/>
<text x="185.70" y="103.40" font-size="9.6" text-anchor="start" font-weight="bold" fill="#000" textLength="13.80" lengthAdjust="spacingAndGlyphs">(A)</text>
</svg>
</body></html>
